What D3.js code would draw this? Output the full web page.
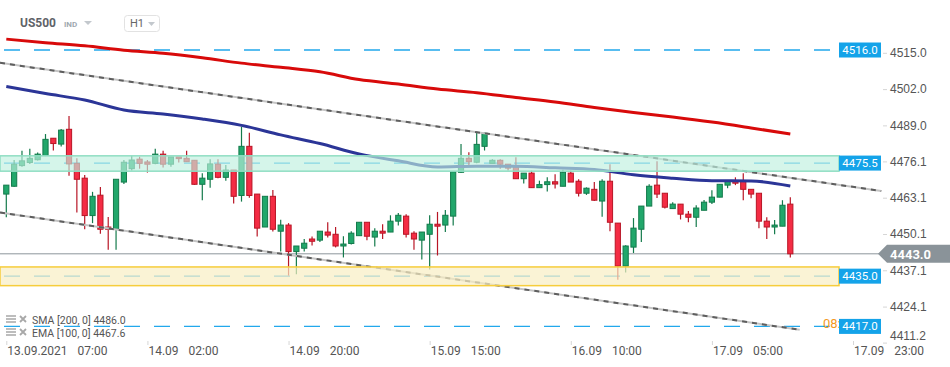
<!DOCTYPE html>
<meta charset="utf-8">
<style>
body { margin: 0; background: #fff; }
svg { display: block; font-family: Roboto, "Open Sans", sans-serif; }
.axis text { font-size: 12px; fill: #555; }
.axis line { stroke: #d6d6d6; }
</style>
<body>
<script src="https://cdn.jsdelivr.net/npm/d3@7"></script>
<script>

// hourly candles
var opens  = [4464.4,4467.2,4474.6,4475.7,4476.7,4478.2,4484.4,4482.3,4487.6,4475.4,
              4470.1,4456.7,4464.0,4452.6,4451.8,4468.7,4473.5,4476.9,4475.9,4475.4,
              4478.7,4475.1,4477.7,4477.2,4476.5,4467.9,4469.7,4475.1,4470.4,4473.0,
              4463.9,4481.5,4464.4,4452.6,4463.6,4451.1,4453.3,4443.8,4445.0,4448.3,
              4447.9,4450.8,4450.0,4445.8,4446.7,4449.5,4454.3,4449.0,4451.1,4450.8,
              4454.7,4456.5,4450.4,4447.9,4450.0,4453.6,4453.3,4456.5,4472.2,4477.2,
              4475.8,4481.5,4475.4,4476.5,4475.1,4474.0,4469.9,4471.9,4466.7,4467.8,
              4468.8,4467.2,4471.9,4469.0,4464.7,4466.1,4461.9,4469.0,4454.0,4438.6,
              4445.4,4451.8,4460.1,4467.6,4464.7,4459.2,4460.8,4457.2,4456.1,4458.6,
              4461.5,4463.3,4467.6,4469.0,4469.0,4466.1,4464.7,4454.7,4452.6,4452.9,
              4460.8];
var highs  = [4467.6,4476.6,4479.9,4480.6,4479.3,4485.9,4484.4,4487.7,4492.4,4477.2,
              4471.2,4465.2,4466.9,4456.2,4469.7,4476.6,4478.1,4477.8,4476.6,4480.6,
              4479.9,4477.7,4477.7,4479.9,4476.5,4471.9,4476.9,4476.9,4474.8,4473.0,
              4488.5,4486.4,4464.4,4463.6,4465.9,4455.2,4454.0,4445.8,4448.3,4449.2,
              4451.1,4454.3,4452.6,4449.3,4451.1,4454.3,4454.3,4452.2,4453.6,4456.8,
              4457.6,4457.2,4451.1,4450.8,4456.8,4458.0,4458.7,4472.4,4482.3,4479.4,
              4486.9,4486.5,4476.9,4476.9,4475.1,4477.6,4471.9,4472.8,4469.2,4470.4,
              4471.5,4473.1,4472.8,4469.7,4466.8,4468.7,4469.7,4475.1,4454.0,4446.1,
              4455.8,4460.1,4467.9,4476.2,4464.7,4461.5,4460.8,4458.3,4460.4,4462.3,
              4465.8,4467.9,4469.0,4470.4,4471.9,4466.1,4464.7,4456.1,4455.1,4462.2,
              4463.3];
var lows   = [4456.1,4467.0,4474.2,4475.2,4476.4,4478.0,4480.0,4481.4,4471.0,4457.8,
              4451.8,4454.0,4450.2,4444.5,4444.5,4468.0,4472.8,4473.5,4472.1,4475.1,
              4473.9,4474.2,4475.7,4475.9,4467.7,4462.2,4466.7,4470.1,4469.2,4461.0,
              4461.7,4463.1,4449.2,4452.6,4451.0,4443.8,4435.2,4435.7,4443.8,4446.0,
              4447.2,4448.8,4445.3,4441.7,4446.3,4449.5,4447.9,4445.6,4448.3,4450.8,
              4453.1,4448.8,4444.5,4441.0,4437.4,4442.4,4450.8,4453.1,4472.0,4474.8,
              4475.4,4480.0,4475.4,4473.5,4472.8,4469.9,4468.2,4466.7,4466.7,4465.3,
              4466.4,4467.2,4468.7,4463.5,4464.1,4461.9,4456.3,4451.1,4433.7,4436.3,
              4443.3,4447.2,4460.1,4463.0,4459.2,4459.2,4455.3,4454.3,4452.6,4458.6,
              4460.8,4463.3,4466.5,4467.6,4462.2,4462.9,4452.2,4448.3,4450.0,4452.9,
              4441.7];
var closes = [4467.6,4475.1,4476.3,4477.2,4478.7,4484.0,4482.5,4487.3,4475.2,4469.7,
              4456.7,4463.6,4451.8,4451.8,4469.7,4475.8,4476.6,4475.4,4475.1,4478.7,
              4475.1,4477.7,4477.1,4476.0,4467.9,4470.1,4475.2,4470.4,4473.0,4463.6,
              4481.5,4463.9,4452.2,4463.6,4451.8,4453.3,4443.8,4445.8,4446.8,4447.5,
              4451.1,4449.7,4445.8,4446.5,4450.4,4454.3,4449.3,4451.1,4450.4,4454.7,
              4456.8,4450.0,4448.3,4450.8,4453.6,4452.9,4456.8,4472.4,4477.2,4476.0,
              4482.2,4486.2,4476.5,4475.1,4473.7,4469.9,4471.9,4466.7,4467.8,4468.8,
              4468.0,4472.2,4468.7,4464.7,4466.5,4462.2,4469.0,4454.3,4438.6,4445.8,
              4452.2,4460.1,4467.2,4464.4,4459.7,4460.8,4457.2,4456.1,4459.4,4461.5,
              4463.3,4467.9,4469.0,4468.3,4466.1,4464.4,4454.7,4452.6,4453.3,4460.4,
              4443.0];

// moving averages, read every 5 candles
var maIdx  = [0,5,10,15,20,25,30,35,40,45,50,55,60,65,70,75,80,85,90,95,100];
var sma200 = [4519.9,4518.6,4517.5,4515.9,4514.8,4513.2,4511.3,4509.8,4508.2,4505.4,
              4503.8,4502.0,4500.7,4499.0,4497.4,4495.4,4493.6,4492.0,4490.2,4488.1,4485.9];
var ema100 = [4502.9,4500.4,4498.1,4494.5,4493.1,4491.3,4489.0,4485.6,4482.5,4478.8,
              4476.3,4474.1,4474.4,4474.4,4473.8,4473.2,4471.3,4470.1,4469.2,4469.1,4467.3];

// trend channel ends (candle index, price)
var upperIdx = [-0.8, 111.6], upperVal = [4511.4, 4465.5];
var lowerIdx = [-0.8, 101.2], lowerVal = [4457.8, 4415.8];

var levels = [4516.0, 4475.5, 4435.0, 4417.0];
var greenZone = [4472.6, 4478.1];
var yellowZone = [4431.6, 4438.3];
var lastPrice = 4443.0;

var yTicks = [4515.0,4502.0,4489.0,4476.1,4463.1,4450.1,4437.1,4424.1,4411.2];
var xTickIdx = [0,18,36,54,72,90,108];
var xDates = ["13.09.2021","14.09","14.09","15.09","16.09","17.09","17.09"];
var xTimes = ["07:00","02:00","20:00","15:00","10:00","05:00","23:00"];

var W = 950, H = 367;
var svg = d3.select("body").append("svg").attr("width", W).attr("height", H);

var x = d3.scaleLinear().domain([0, 100]).range([6.3, 790.3]);
var y = d3.scaleLinear().domain([4411.2, 4515.0]).range([342.6, 52.8]);

var plotRight = 839;

svg.append("clipPath").attr("id", "plotclip")
  .append("rect").attr("x", 0).attr("y", 0).attr("width", plotRight).attr("height", H);

// horizontal dashed levels
svg.selectAll(".lvl").data(levels).enter().append("line")
    .attr("x1", 0).attr("x2", plotRight)
    .attr("y1", function(d){ return y(d); }).attr("y2", function(d){ return y(d); })
    .attr("stroke", "#22a8ec").attr("stroke-width", 1.3)
    .attr("stroke-dasharray", "16,14").attr("stroke-dashoffset", -4);

// last price line
svg.append("line")
    .attr("x1", 0).attr("x2", 880)
    .attr("y1", y(lastPrice)).attr("y2", y(lastPrice))
    .attr("stroke", "#8c959b").attr("stroke-width", 1);

// candles
var candles = d3.range(opens.length).map(function(i){
  return {i: i, o: opens[i], h: highs[i], l: lows[i], c: closes[i]};
});
var cg = svg.append("g").selectAll("g").data(candles).enter().append("g");
cg.append("line")
    .attr("x1", function(d){ return x(d.i); }).attr("x2", function(d){ return x(d.i); })
    .attr("y1", function(d){ return y(d.h); }).attr("y2", function(d){ return y(d.l); })
    .attr("stroke", function(d){ return d.c >= d.o ? "#137a4b" : "#b81525"; })
    .attr("stroke-width", 1.2);
cg.append("rect")
    .attr("x", function(d){ return x(d.i) - 2.6; })
    .attr("width", 5.2)
    .attr("y", function(d){ return y(Math.max(d.o, d.c)); })
    .attr("height", function(d){ return Math.max(1.5, Math.abs(y(d.o) - y(d.c))); })
    .attr("fill", function(d){ return d.c >= d.o ? "#21a76b" : "#f42c44"; })
    .attr("stroke", function(d){ return d.c >= d.o ? "#137a4b" : "#b81525"; })
    .attr("stroke-width", 1);

// moving averages
var maLine = d3.line()
    .x(function(d){ return x(d[0]); })
    .y(function(d){ return y(d[1]); })
    .curve(d3.curveMonotoneX);
svg.append("path")
    .attr("d", maLine(d3.zip(maIdx, sma200)))
    .attr("fill", "none").attr("stroke", "#d80a0a").attr("stroke-width", 3);
svg.append("path")
    .attr("d", maLine(d3.zip(maIdx, ema100)))
    .attr("fill", "none").attr("stroke", "#2b3597").attr("stroke-width", 3);

// channel lines
[[upperIdx, upperVal], [lowerIdx, lowerVal]].forEach(function(ch){
  var d = d3.line().x(function(p){ return x(p[0]); }).y(function(p){ return y(p[1]); })(d3.zip(ch[0], ch[1]));
  svg.append("path").attr("d", d).attr("fill", "none")
      .attr("stroke", "#c4c4c4").attr("stroke-width", 2);
  svg.append("path").attr("d", d).attr("fill", "none")
      .attr("stroke", "#5e5e5e").attr("stroke-width", 2).attr("stroke-dasharray", "5,5");
});

// zones over the candles
svg.append("rect")
    .attr("x", 0).attr("width", plotRight)
    .attr("y", y(greenZone[1])).attr("height", y(greenZone[0]) - y(greenZone[1]))
    .attr("fill", "rgba(190,240,222,0.65)")
    .attr("stroke", "#90dec3").attr("stroke-width", 1.5);
svg.append("rect")
    .attr("x", 0).attr("width", plotRight)
    .attr("y", y(yellowZone[1])).attr("height", y(yellowZone[0]) - y(yellowZone[1]))
    .attr("fill", "rgba(248,238,195,0.7)")
    .attr("stroke", "#f6cd3c").attr("stroke-width", 1.5);

// countdown text, cut at the label column
svg.append("text")
    .attr("clip-path", "url(#plotclip)")
    .attr("x", 823).attr("y", y(4417.0) + 2)
    .attr("font-size", 13).attr("fill", "#f39a1e")
    .text("08:23");

// level labels
var lab = svg.selectAll(".lab").data(levels).enter().append("g")
    .attr("transform", function(d){ return "translate(" + plotRight + "," + y(d) + ")"; });
lab.append("rect").attr("x", 0).attr("y", -7.5).attr("width", 42).attr("height", 15)
    .attr("fill", "#14a3e9");
lab.append("text").attr("x", 21).attr("y", 4).attr("text-anchor", "middle")
    .attr("font-size", 11.5).attr("fill", "#fff")
    .text(function(d){ return d.toFixed(1); });

// y axis
var yAxis = svg.append("g").attr("class", "axis")
    .attr("transform", "translate(883,0)")
    .call(d3.axisRight(y).tickValues(yTicks).tickSize(4).tickPadding(3).tickFormat(d3.format(".1f")));
yAxis.select(".domain").remove();
// bottom label is kept above the time axis
yAxis.selectAll(".tick").filter(function(d){ return y(d) > 336; })
    .select("text").attr("y", function(d){ return 336 - y(d); });

// last price tag
var py = y(lastPrice);
svg.append("path")
    .attr("d", "M878," + py + " L887," + (py - 9) + " L950," + (py - 9) + " L950," + (py + 9) + " L887," + (py + 9) + " Z")
    .attr("fill", "#8a9399");
svg.append("text").attr("x", 890).attr("y", py + 5)
    .attr("font-size", 13).attr("font-weight", "bold").attr("fill", "#fff")
    .text(lastPrice.toFixed(1));

// x axis
var xAxis = svg.append("g").attr("class", "axis")
    .attr("transform", "translate(0,341)")
    .call(d3.axisBottom(x).tickValues(xTickIdx).tickSize(4).tickFormat(""));
xAxis.select(".domain").remove();
var xt = svg.selectAll(".xl").data(xTickIdx).enter().append("text")
    .attr("x", function(d){ return x(d) + 1; }).attr("y", 355)
    .attr("font-size", 12).attr("fill", "#555");
xt.append("tspan").text(function(d, i){ return xDates[i]; });
xt.append("tspan").attr("dx", 10).text(function(d, i){ return xTimes[i]; });

// header
svg.append("text").attr("x", 20).attr("y", 27).attr("font-size", 12)
    .attr("font-weight", "bold").attr("fill", "#5f6368").text("US500");
svg.append("text").attr("x", 64).attr("y", 27).attr("font-size", 8)
    .attr("font-weight", "bold").attr("fill", "#a0a9b0").text("IND");
svg.append("path").attr("d", "M84,21 L92,21 L88,25 Z").attr("fill", "#c3c8cd");
svg.append("rect").attr("x", 124.5).attr("y", 15.5).attr("width", 35).attr("height", 16)
    .attr("rx", 3).attr("fill", "#fff").attr("stroke", "#e2e2e2");
svg.append("text").attr("x", 130).attr("y", 27).attr("font-size", 11)
    .attr("fill", "#666").text("H1");
svg.append("path").attr("d", "M148,22 L155,22 L151.5,26 Z").attr("fill", "#c3c8cd");

// indicator legend (menu and close icons drawn as small paths)
var legendNames = ["SMA [200, 0] ", "EMA [100, 0] "];
var legendVals = [4486.0, 4467.6];
legendNames.forEach(function(name, i){
  var ly = 324 + i * 13;
  svg.append("path")
      .attr("d", "M6," + (ly - 8) + "h10M6," + (ly - 5) + "h10M6," + (ly - 2) + "h10")
      .attr("stroke", "#a8a8a8").attr("stroke-width", 1.6);
  svg.append("path")
      .attr("d", "M20," + (ly - 8) + "l6,6M26," + (ly - 8) + "l-6,6")
      .attr("stroke", "#a8a8a8").attr("stroke-width", 1.8);
  svg.append("text").attr("x", 32).attr("y", ly).attr("font-size", 10.5).attr("fill", "#555")
      .text(name + legendVals[i].toFixed(1));
});

</script>
